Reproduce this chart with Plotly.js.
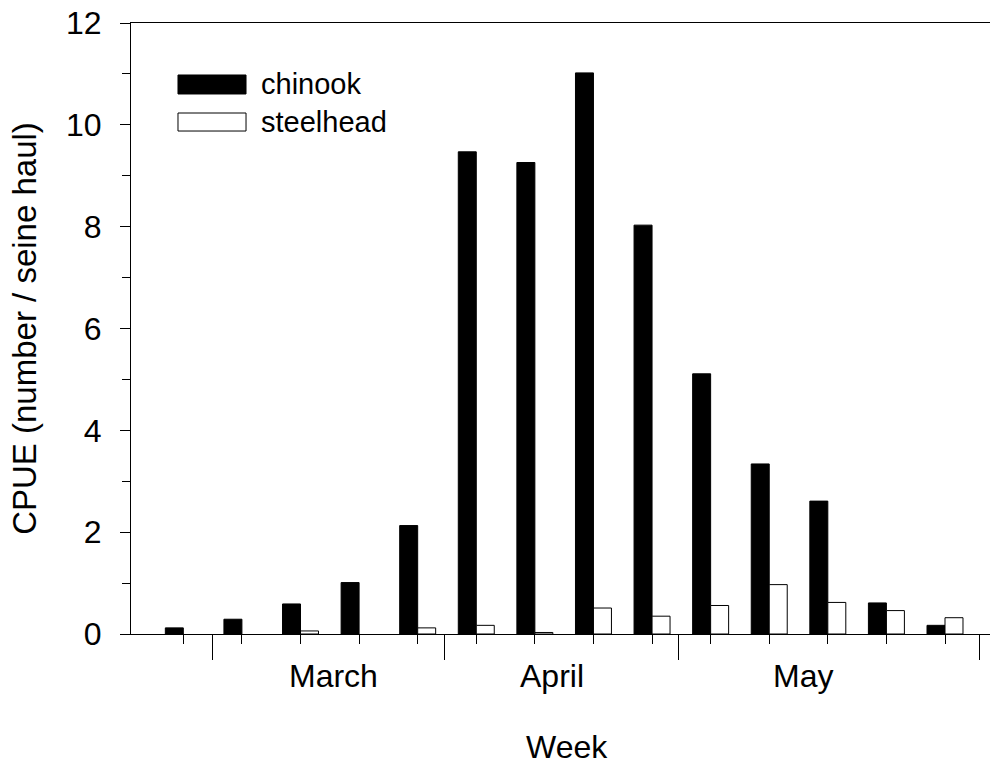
<!DOCTYPE html>
<html>
<head>
<meta charset="utf-8">
<script src="https://cdn.plot.ly/plotly-3.0.1.min.js"></script>
<style>
  html, body { margin: 0; padding: 0; background: #ffffff; }
  #chart { width: 995px; height: 764px; }
</style>
</head>
<body>
<div id="chart"></div>
<script>
// ---- data ----
const weeks = [1, 2, 3, 4, 5, 6, 7, 8, 9, 10, 11, 12, 13, 14];
const chinook = [0.12, 0.29, 0.59, 1.01, 2.13, 9.47, 9.26, 11.02, 8.03, 5.11, 3.34, 2.61, 0.61, 0.17];
const steelhead = [0, 0, 0.06, 0, 0.12, 0.17, 0.03, 0.51, 0.35, 0.56, 0.97, 0.62, 0.46, 0.32];
const seriesNames = ['chinook', 'steelhead'];
const monthNames = ['March', 'April', 'May'];
const yTickVals = [0, 2, 4, 6, 8, 10, 12];
const yTickText = ['0', '2', '4', '6', '8', '10', '12'];

// ---- layout constants (positions on the week axis) ----
const monthBoundaries = [1.502, 5.455, 9.455, 14.587];
const monthLabelPos = [3.555, 7.284, 11.577];
const xRange = [0.107, 14.768];
const barW = 0.307;
const FONT = 'Liberation Sans, Arial, Helvetica, sans-serif';

// zero-height bars draw no outline (as in the original)
const outlineFor = vals => vals.map(v => (v > 0 ? 1 : 0));

const traces = [
  {
    type: 'bar', name: seriesNames[0], x: weeks, y: chinook,
    width: barW, offset: -barW,
    marker: { color: '#000000', line: { color: '#000000', width: outlineFor(chinook) } },
    showlegend: false, hoverinfo: 'x+y+name'
  },
  {
    type: 'bar', name: seriesNames[1], x: weeks, y: steelhead,
    width: barW, offset: 0,
    marker: { color: '#ffffff', line: { color: '#000000', width: outlineFor(steelhead) } },
    showlegend: false, hoverinfo: 'x+y+name'
  },
  {
    // invisible trace to activate the secondary x axis (month boundary ticks)
    type: 'scatter', x: [monthBoundaries[0]], y: [0], xaxis: 'x2',
    mode: 'markers', marker: { opacity: 0 }, showlegend: false, hoverinfo: 'skip'
  }
];

const annotations = monthNames.map((m, i) => ({
  text: m, x: monthLabelPos[i], xref: 'x', y: -0.0682, yref: 'paper',
  xanchor: 'center', yanchor: 'middle', showarrow: false,
  font: { family: FONT, size: 32, color: '#000000' }
}));

// custom legend (wide swatches like the original)
const legendSwatches = [
  { x0: 0.0547, x1: 0.1339, y0: 0.8838, y1: 0.9149, fill: '#000000' },
  { x0: 0.0547, x1: 0.1339, y0: 0.8232, y1: 0.8527, fill: '#ffffff' }
];
const shapes = legendSwatches.map(s => ({
  type: 'rect', xref: 'paper', yref: 'paper',
  x0: s.x0, x1: s.x1, y0: s.y0, y1: s.y1,
  fillcolor: s.fill, line: { color: '#000000', width: 1 }
}));
seriesNames.forEach((n, i) => {
  annotations.push({
    text: n, x: 0.1495, xref: 'paper',
    y: (legendSwatches[i].y0 + legendSwatches[i].y1) / 2, yref: 'paper',
    xanchor: 'left', yanchor: 'middle', showarrow: false,
    font: { family: FONT, size: 29, color: '#000000' }
  });
});

// x-axis title placed like the original (slightly right of centre)
annotations.push({
  text: 'Week', x: 0.5076, xref: 'paper', y: -0.1845, yref: 'paper',
  xanchor: 'center', yanchor: 'middle', showarrow: false,
  font: { family: FONT, size: 32, color: '#000000' }
});

const layout = {
  width: 995, height: 764,
  margin: { l: 131, r: 5, t: 23, b: 130, pad: 0 },
  paper_bgcolor: '#ffffff', plot_bgcolor: '#ffffff',
  font: { family: FONT, size: 32, color: '#000000' },
  barmode: 'overlay',
  showlegend: false,
  xaxis: {
    type: 'linear', range: xRange, fixedrange: true,
    tickmode: 'array', tickvals: weeks, showticklabels: false,
    ticks: 'outside', ticklen: 9, tickwidth: 1, tickcolor: '#000000',
    showline: true, linecolor: '#000000', linewidth: 1, mirror: true,
    showgrid: false, zeroline: false
  },
  xaxis2: {
    type: 'linear', range: xRange, overlaying: 'x', side: 'bottom', fixedrange: true,
    tickmode: 'array', tickvals: monthBoundaries, showticklabels: false,
    ticks: 'outside', ticklen: 25, tickwidth: 1, tickcolor: '#000000',
    showline: false, showgrid: false, zeroline: false
  },
  yaxis: {
    range: [0, 12], fixedrange: true,
    tickmode: 'array', tickvals: yTickVals, ticktext: yTickText,
    ticks: 'outside', ticklen: 10, tickwidth: 1, tickcolor: '#000000',
    minor: { tickmode: 'linear', tick0: 0, dtick: 1, ticks: 'outside', ticklen: 8, tickwidth: 1, tickcolor: '#000000', showgrid: false },
    tickfont: { family: FONT, size: 32 },
    ticklabelstandoff: 12,
    showline: true, linecolor: '#000000', linewidth: 1, mirror: false,
    showgrid: false, zeroline: false,
    title: { text: 'CPUE (number / seine haul)', font: { family: FONT, size: 33 }, standoff: 19 }
  },
  shapes: shapes,
  annotations: annotations
};

Plotly.newPlot('chart', traces, layout, { staticPlot: true, displayModeBar: false });
</script>
</body>
</html>
